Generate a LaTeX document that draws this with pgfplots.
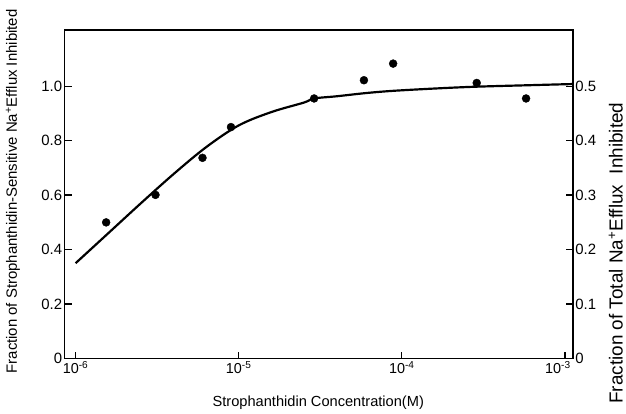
\documentclass[border=0pt]{standalone}
\usepackage{fontspec}
\setmainfont{Liberation Sans}
\usepackage{pgfplots}
\pgfplotsset{compat=1.18}
\begin{document}
\begin{tikzpicture}
\begin{axis}[
  scale only axis,
  width=511pt, height=330.5pt,
  xmode=log,
  xmin=8.57e-7, xmax=1.119e-3,
  ymin=0, ymax=1.207,
  axis line style={line width=1.6pt},
  tick align=inside,
  major tick length=7pt,
  every tick/.style={line width=1.4pt, black},
  xtick={1e-6,1e-5,1e-4,1e-3},
  xticklabels={10\textsuperscript{-6},10\textsuperscript{-5},10\textsuperscript{-4},\hspace*{-7pt}10\textsuperscript{-3}\hspace*{7pt}},
  xtick pos=bottom,
  xminorticks=false,
  ytick={0,0.2,0.4,0.6,0.8,1.0},
  yticklabels={0,0.2,0.4,0.6,0.8,1.0},
  ytick pos=left,
  /pgf/number format/assume math mode=true,
  tick label style={font=\fontsize{15}{16}\selectfont},
  xticklabel style={font=\fontsize{14.5}{16}\selectfont, yshift=1pt},
  yticklabel style={xshift=1pt},
  clip=false,
]
\addplot[black, line width=2.2pt, smooth, tension=0.55] coordinates {
  (1.0e-6,0.35) (1.585e-6,0.46) (2.512e-6,0.57) (3.981e-6,0.677)
  (6.310e-6,0.776) (1.0e-5,0.856) (1.585e-5,0.905) (2.512e-5,0.940)
  (2.9e-5,0.955) (3.981e-5,0.963) (6.310e-5,0.976) (1.0e-4,0.985) (2.512e-4,0.997)
  (6.310e-4,1.004) (1.119e-3,1.008)
};
\addplot[only marks, mark=*, mark size=4pt, black] coordinates {
  (1.54e-6,0.500) (3.09e-6,0.601) (6.0e-6,0.737) (8.97e-6,0.850)
  (2.9e-5,0.955) (5.86e-5,1.022) (8.85e-5,1.083) (2.88e-4,1.012)
  (5.78e-4,0.955)
};
\end{axis}
\begin{axis}[
  scale only axis,
  width=511pt, height=330.5pt,
  xmin=0, xmax=1,
  ymin=0, ymax=0.6035,
  hide x axis,
  axis y line*=right,
  axis line style={line width=1.6pt},
  tick align=inside,
  major tick length=7pt,
  every tick/.style={line width=1.4pt, black},
  ytick={0,0.1,0.2,0.3,0.4,0.5},
  yticklabels={0,0.1,0.2,0.3,0.4,0.5},
  /pgf/number format/assume math mode=true,
  tick label style={font=\fontsize{15}{16}\selectfont},
  yticklabel style={xshift=-1pt},
]
\end{axis}
\node[font=\fontsize{14.7}{15}\selectfont] at ([shift={(255pt,-44.5pt)}]current axis.south west) {Strophanthidin Concentration(M)};
\node[font=\fontsize{15}{16}\selectfont, rotate=90] at ([shift={(-52pt,168pt)}]current axis.south west) {Fraction of Strophanthidin-Sensitive Na\textsuperscript{+}Efflux Inhibited};
\node[font=\fontsize{19}{20}\selectfont, rotate=90] at ([shift={(554pt,106pt)}]current axis.south west) {Fraction of Total Na\textsuperscript{+}Efflux\ \ Inhibited};
\path[use as bounding box] ([shift={(-65pt,-55.5pt)}]current axis.south west) rectangle ([shift={(50pt,30pt)}]current axis.north east);
\end{tikzpicture}
\end{document}
